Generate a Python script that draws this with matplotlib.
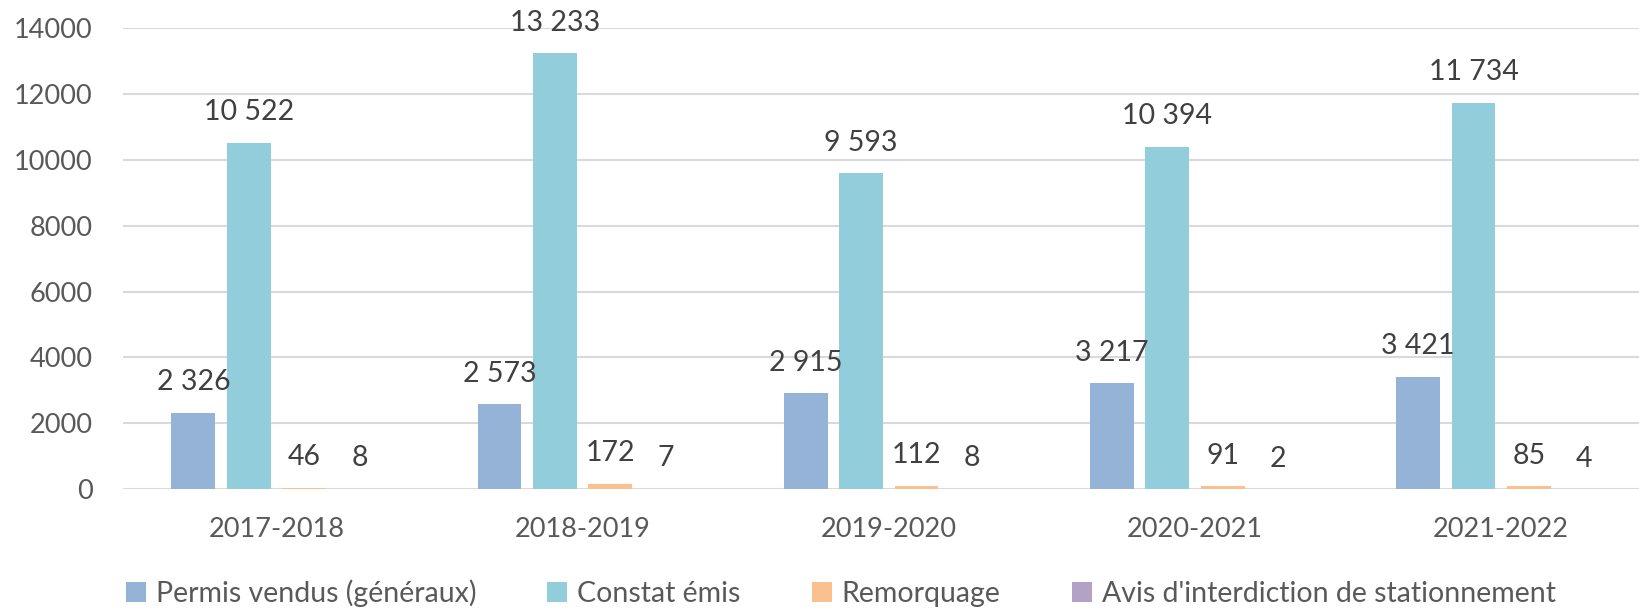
import matplotlib.pyplot as plt
import numpy as np

# Données
annees = ["2017-2018", "2018-2019", "2019-2020", "2020-2021", "2021-2022"]
permis = [2326, 2573, 2915, 3217, 3421]
constats = [10522, 13233, 9593, 10394, 11734]
remorquage = [46, 172, 112, 91, 85]
avis = [8, 7, 8, 2, 4]

series = [
    ("Permis vendus (généraux)", permis, "#95B3D7"),
    ("Constat émis", constats, "#92CDDC"),
    ("Remorquage", remorquage, "#FAC090"),
    ("Avis d'interdiction de stationnement", avis, "#B3A2C7"),
]

plt.rcParams["font.family"] = ["Lato", "DejaVu Sans"]

fig = plt.figure(figsize=(16.39, 6.08), dpi=100)
ax = fig.add_axes([0.0753, 0.1954, 0.934, 0.7582])

x = np.arange(len(annees))
step = 0.181
width = 0.143
for i, (nom, vals, col) in enumerate(series):
    pos = x + (i - 1.5) * step
    bars = ax.bar(pos, vals, width, color=col, label=nom, zorder=2)
    for b, v in zip(bars, vals):
        txt = f"{v:,}".replace(",", " ")
        ax.annotate(txt, (b.get_x() + b.get_width() / 2, v),
                    xytext=(0, 22), textcoords="offset points",
                    ha="center", va="center", fontsize=20.5, color="#404040")

ax.set_xlim(-0.5, 4.5)
ax.set_ylim(0, 14000)
ax.set_yticks(range(0, 14001, 2000))
ax.set_xticks(x)
ax.set_xticklabels(annees)
ax.tick_params(axis="both", length=0, labelsize=19.5, colors="#595959")
ax.tick_params(axis="x", pad=20)
ax.tick_params(axis="y", pad=22)
ax.grid(axis="y", color="#D9D9D9", linewidth=1.5, zorder=0)
for s in ax.spines.values():
    s.set_visible(False)

fig.legend(loc="center", bbox_to_anchor=(0.513, 0.024), ncol=4, frameon=False,
           fontsize=20.5, handlelength=0.7, handleheight=0.7,
           handletextpad=0.35, columnspacing=2.5, labelcolor="#595959")

fig.savefig("out.png", dpi=100)
